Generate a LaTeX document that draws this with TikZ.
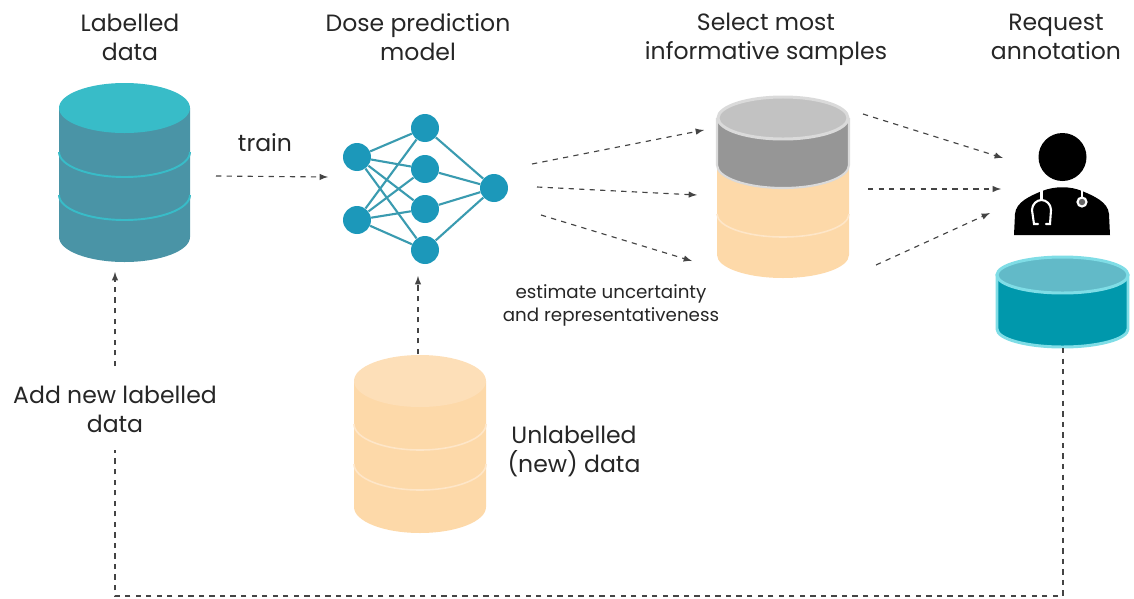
\documentclass[tikz,border=0pt]{standalone}
\usepackage{fontspec}
\setmainfont{Poppins}
\usetikzlibrary{arrows}

\definecolor{tealtop}{HTML}{38BCC8}
\definecolor{tealside}{HTML}{4A94A6}
\definecolor{peach}{HTML}{FDD9A9}
\definecolor{peachtop}{HTML}{FDDFB8}
\definecolor{peachline}{HTML}{FEE6C8}
\definecolor{greytop}{HTML}{C2C2C2}
\definecolor{greyside}{HTML}{969696}
\definecolor{greyrim}{HTML}{DADADA}
\definecolor{nnblue}{HTML}{1C98BA}
\definecolor{nnline}{HTML}{3A9BB0}
\definecolor{cyanrim}{HTML}{7FDDE6}
\definecolor{cyantop}{HTML}{62BAC8}
\definecolor{cyanside}{HTML}{0098AC}
\definecolor{arrowgrey}{HTML}{444444}

\tikzset{
	flow/.style = {draw = arrowgrey, dashed, line width = 0.65pt, -latex},
	flowplain/.style = {draw = arrowgrey, dashed, line width = 0.65pt},
	neuron/.style = {circle, fill = nnblue, minimum size = 0.56cm, inner sep = 0pt},
	synapse/.style = {draw = nnline, line width = 1.2pt},
	caption/.style = {align = center, font = \fontsize{13.4}{16.5}\selectfont, text = black!85},
	smallcaption/.style = {align = center, font = \fontsize{10.4}{13}\selectfont, text = black!85}
}

\begin{document}
\begin{tikzpicture}[x = 0.02cm, y = -0.02cm]
	\useasboundingbox (0,0) rectangle (1134,599);

	% labelled data
	\fill[tealside] (59,108) -- (59,237) arc[x radius = 65.5, y radius = 25, start angle = 180, end angle = 0] -- (190,108) -- cycle;
	\draw[tealtop, line width = 1.1pt] (59,152) arc[x radius = 65.5, y radius = 25, start angle = 180, end angle = 0];
	\draw[tealtop, line width = 1.1pt] (59,195) arc[x radius = 65.5, y radius = 25, start angle = 180, end angle = 0];
	\fill[tealtop] (124.5,108) ellipse (65.5 and 25);

	% unlabelled data
	\fill[peach] (354,381) -- (354,507) arc[x radius = 66, y radius = 26, start angle = 180, end angle = 0] -- (486,381) -- cycle;
	\fill[peachtop] (420,381) ellipse (66 and 26);
	\draw[peachline, line width = 0.9pt] (354,424) arc[x radius = 66, y radius = 26, start angle = 180, end angle = 0];
	\draw[peachline, line width = 0.9pt] (354,464) arc[x radius = 66, y radius = 26, start angle = 180, end angle = 0];

	% selected samples
	\fill[peach] (717,165) -- (717,255) arc[x radius = 66, y radius = 23, start angle = 180, end angle = 0] -- (849,165) -- cycle;
	\draw[peachline, line width = 0.9pt] (717,214) arc[x radius = 66, y radius = 23, start angle = 180, end angle = 0];
	\fill[greyside] (717,118) -- (717,165) arc[x radius = 66, y radius = 23, start angle = 180, end angle = 0] -- (849,118) -- cycle;
	\draw[greyrim, line width = 1.2pt] (717,118) -- (717,165) arc[x radius = 66, y radius = 23, start angle = 180, end angle = 0] -- (849,118);
	\draw[greyrim, fill = greytop, line width = 1.7pt] (783,118) ellipse (65 and 21);

	% annotated data
	\draw[cyanrim, fill = cyanside, line width = 1.7pt] (997,275) -- (997,329) arc[x radius = 65.5, y radius = 18, start angle = 180, end angle = 0] -- (1128,275) -- cycle;
	\draw[cyanrim, fill = cyantop, line width = 1.7pt] (1062.5,275) ellipse (65.5 and 18);

	% doctor
	\fill[black] (1062.5,157) circle (24);
	\fill[black] (1014,235) -- (1015,214) .. controls (1016,202) and (1030,196) .. (1042,191) .. controls (1055,186) and (1070,186) .. (1082,191) .. controls (1094,196) and (1108,202) .. (1109,214) -- (1110,235) -- cycle;
	\draw[white, line width = 1.2pt] (1041.5,190) -- (1041.5,200);
	\draw[white, line width = 1.2pt, line cap = round] (1038,224) -- (1034,224) -- (1032,210) .. controls (1032,204) and (1037,200) .. (1041.5,200) .. controls (1046,200) and (1051,204) .. (1051,210) -- (1050,224) -- (1046,224);
	\draw[white, line width = 1.2pt] (1082,190) -- (1082,197);
	\draw[white, fill = black!60, line width = 1.2pt] (1082,202) circle (4.5);

	% network
	\node[neuron] (inA) at (357,157) {};
	\node[neuron] (inB) at (357,220) {};
	\node[neuron] (hidA) at (425,128) {};
	\node[neuron] (hidB) at (425,169) {};
	\node[neuron] (hidC) at (425,209) {};
	\node[neuron] (hidD) at (425,250) {};
	\node[neuron] (outA) at (494,188) {};
	\foreach \hid in {hidA,hidB,hidC,hidD} {
		\draw[synapse] (inA) -- (\hid);
		\draw[synapse] (inB) -- (\hid);
		\draw[synapse] (\hid) -- (outA);
	}

	% ends of the arrows
	\coordinate (trainS) at (216,176);
	\coordinate (trainE) at (328,177);
	\coordinate (estAS) at (532,164);
	\coordinate (estAE) at (704,130);
	\coordinate (estBS) at (537,187);
	\coordinate (estBE) at (697,195);
	\coordinate (estCS) at (541,215);
	\coordinate (estCE) at (692,261);
	\coordinate (reqAS) at (863,114);
	\coordinate (reqAE) at (1003,158);
	\coordinate (reqBS) at (868,189);
	\coordinate (reqBE) at (1001,189);
	\coordinate (reqCS) at (876,265);
	\coordinate (reqCE) at (990,213);
	\coordinate (newS) at (418,354);
	\coordinate (newE) at (418,276);
	\coordinate (addS) at (115,366);
	\coordinate (addE) at (115,272);
	\coordinate (backA) at (1063,348);
	\coordinate (backB) at (1063,596);
	\coordinate (backC) at (115,596);
	\coordinate (backD) at (115,450);

	\draw[flow] (trainS) -- (trainE);
	\draw[flow] (estAS) -- (estAE);
	\draw[flow] (estBS) -- (estBE);
	\draw[flow] (estCS) -- (estCE);
	\draw[flow] (reqAS) -- (reqAE);
	\draw[flow] (reqBS) -- (reqBE);
	\draw[flow] (reqCS) -- (reqCE);
	\draw[flow] (newS) -- (newE);
	\draw[flow] (addS) -- (addE);
	\draw[flowplain] (backA) -- (backB) -- (backC) -- (backD);

	% labels
	\node[caption] (labLabelled) at (130,37) {Labelled\\data};
	\node[caption] (labModel) at (418,37) {Dose prediction\\model};
	\node[caption] (labSelect) at (766,39) {Select most\\informative samples};
	\node[caption] (labRequest) at (1056,37) {Request\\annotation};
	\node[caption] (labTrain) at (265,143) {train};
	\node[caption] (labAdd) at (115,409) {Add new labelled\\data};
	\node[caption] (labUnlabelled) at (574,451) {Unlabelled\\(new) data};
	\node[smallcaption] (labEstimate) at (611,305) {estimate uncertainty\\and representativeness};
\end{tikzpicture}
\end{document}
